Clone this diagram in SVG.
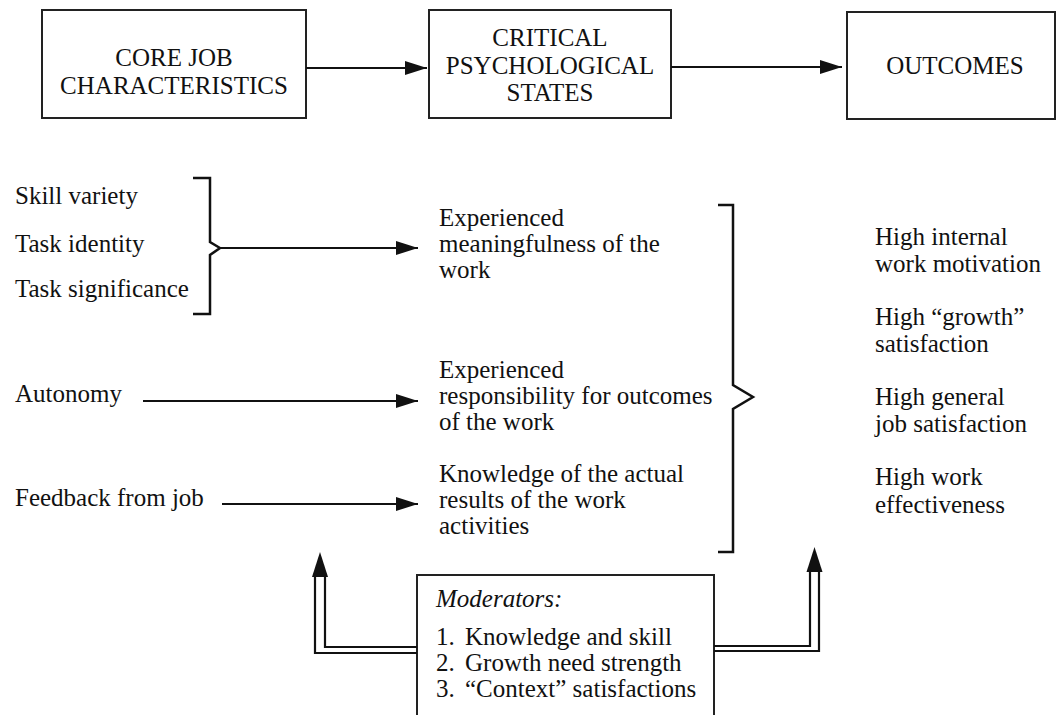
<svg xmlns="http://www.w3.org/2000/svg" width="1060" height="715" viewBox="0 0 1060 715">
<defs>
<style>
text{font-family:"Liberation Serif","Times New Roman",serif;font-size:25px;fill:#111}
.hd{text-anchor:middle}
.box{fill:none;stroke:#222;stroke-width:2}
.ln{fill:none;stroke:#111;stroke-width:2.2}
.br{fill:none;stroke:#111;stroke-width:2.5}
</style>
<marker id="ah" markerUnits="userSpaceOnUse" markerWidth="24" markerHeight="16" refX="22" refY="7" orient="auto">
<path d="M0,0 L22,7 L0,14 z" fill="#111"/>
</marker>
</defs>
<rect width="1060" height="715" fill="#fff"/>

<g id="core">
<rect class="box" x="42" y="10" width="264" height="108"/>
<text class="hd" x="174" y="66">CORE JOB</text>
<text class="hd" x="174" y="94">CHARACTERISTICS</text>
</g>
<g id="critical">
<rect class="box" x="429" y="10" width="242" height="108"/>
<text class="hd" x="550" y="46">CRITICAL</text>
<text class="hd" x="550" y="74">PSYCHOLOGICAL</text>
<text class="hd" x="550" y="101">STATES</text>
</g>
<g id="outcomes">
<rect class="box" x="847" y="12" width="208" height="107"/>
<text class="hd" x="955" y="74">OUTCOMES</text>
</g>

<g id="characteristics">
<text x="15" y="204">Skill variety</text>
<text x="15" y="252">Task identity</text>
<text x="15" y="297">Task significance</text>
<text x="15" y="402">Autonomy</text>
<text x="15" y="506">Feedback from job</text>
</g>

<g id="states">
<text x="439" y="226">Experienced</text>
<text x="439" y="252">meaningfulness of the</text>
<text x="439" y="278">work</text>
<text x="439" y="378">Experienced</text>
<text x="439" y="404">responsibility for outcomes</text>
<text x="439" y="430">of the work</text>
<text x="439" y="482">Knowledge of the actual</text>
<text x="439" y="508">results of the work</text>
<text x="439" y="534">activities</text>
</g>

<g id="results">
<text x="875" y="245">High internal</text>
<text x="875" y="272">work motivation</text>
<text x="875" y="325">High “growth”</text>
<text x="875" y="352">satisfaction</text>
<text x="875" y="405">High general</text>
<text x="875" y="432">job satisfaction</text>
<text x="875" y="485">High work</text>
<text x="875" y="513">effectiveness</text>
</g>

<g id="moderators">
<rect class="box" x="417" y="575" width="297" height="150"/>
<text x="436" y="607" font-style="italic">Moderators:</text>
<text x="436" y="645">1.</text><text x="465" y="645">Knowledge and skill</text>
<text x="436" y="671">2.</text><text x="465" y="671">Growth need strength</text>
<text x="436" y="697">3.</text><text x="465" y="697">“Context” satisfactions</text>
</g>

<g id="connectors">
<line class="ln" x1="306" y1="68" x2="427" y2="68" marker-end="url(#ah)"/>
<line class="ln" x1="671" y1="67" x2="842" y2="67" marker-end="url(#ah)"/>
<path class="br" d="M193,178 H210 V242 L220,248 L210,255 V314 H193"/>
<line class="ln" x1="220" y1="248" x2="418" y2="248" marker-end="url(#ah)"/>
<line class="ln" x1="143" y1="401" x2="418" y2="401" marker-end="url(#ah)"/>
<line class="ln" x1="222" y1="504" x2="418" y2="504" marker-end="url(#ah)"/>
<path class="br" d="M718,205 H733 V385 L753,397 L733,409 V552 H718"/>
<path class="ln" d="M315,573 V653 H417"/>
<path class="ln" d="M325,573 V647 H417"/>
<path d="M320,552 L328,577 L312,577 z" fill="#111"/>
<path class="ln" d="M819,568 V651 H714"/>
<path class="ln" d="M810,568 V646 H714"/>
<path d="M814.5,547 L822.5,572 L806.5,572 z" fill="#111"/>
</g>
</svg>
